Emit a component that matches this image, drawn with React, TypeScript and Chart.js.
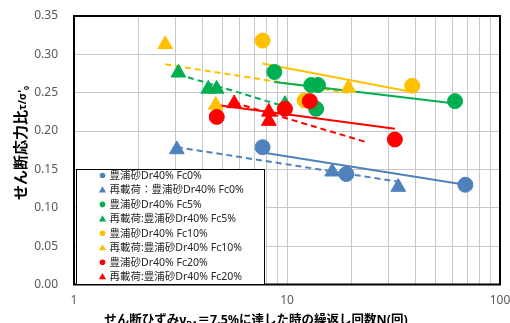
import { useEffect, useRef } from "react";
import { Chart, registerables } from "chart.js";

Chart.register(...registerables);

// 繰返し回数 N and せん断応力比 τ/σ'0 per test group
const fc0N = [7.68, 19.0, 68.8];
const fc0Ratio = [0.179, 0.144, 0.13];
const fc0ReN = [3.04, 16.3, 33.3];
const fc0ReRatio = [0.176, 0.147, 0.127];

const fc5N = [8.72, 12.99, 13.98, 13.7, 61.5];
const fc5Ratio = [0.277, 0.26, 0.26, 0.229, 0.239];
const fc5ReN = [3.09, 4.27, 4.67, 9.78];
const fc5ReRatio = [0.276, 0.255, 0.255, 0.235];

const fc10N = [7.68, 12.1, 38.7];
const fc10Ratio = [0.318, 0.24, 0.259];
const fc10ReN = [2.68, 4.63, 19.4];
const fc10ReRatio = [0.313, 0.234, 0.256];

const fc20N = [4.68, 9.78, 12.8, 32.1];
const fc20Ratio = [0.2185, 0.229, 0.239, 0.189];
const fc20ReN = [5.65, 8.22, 8.22];
const fc20ReRatio = [0.236, 0.225, 0.213];

// approximate trend lines (start / end)
const fc0TrendN = [7.68, 68.8];
const fc0TrendRatio = [0.172, 0.13];
const fc0ReTrendN = [3.04, 33.3];
const fc0ReTrendRatio = [0.179, 0.134];
const fc5TrendN = [8.72, 61.5];
const fc5TrendRatio = [0.264, 0.236];
const fc5ReTrendN = [3.09, 9.78];
const fc5ReTrendRatio = [0.274, 0.232];
const fc10TrendN = [7.68, 38.7];
const fc10TrendRatio = [0.288, 0.251];
const fc10ReTrendN = [2.68, 19.2];
const fc10ReTrendRatio = [0.287, 0.25];
const fc20TrendN = [4.68, 32.1];
const fc20TrendRatio = [0.234, 0.203];
const fc20ReTrendN = [5.65, 23.3];
const fc20ReTrendRatio = [0.237, 0.186];

const seriesLabels = [
  "豊浦砂Dr40% Fc0%",
  "再載荷：豊浦砂Dr40% Fc0%",
  "豊浦砂Dr40% Fc5%",
  "再載荷:豊浦砂Dr40% Fc5%",
  "豊浦砂Dr40% Fc10%",
  "再載荷:豊浦砂Dr40% Fc10%",
  "豊浦砂Dr40% Fc20%",
  "再載荷:豊浦砂Dr40% Fc20%",
];

const xTickValues = [1, 2, 3, 4, 5, 6, 7, 8, 9, 10, 20, 30, 40, 50, 60, 70, 80, 90, 100];
const xLabelValues = [1, 10, 100];
const yTickValues = [0, 0.05, 0.1, 0.15, 0.2, 0.25, 0.3, 0.35];

const BLUE = "#4f81bd";
const GREEN = "#00b050";
const YELLOW = "#ffc000";
const RED = "#ff0000";
const GRID = "#c8c8c8";

const pts = (xs: number[], ys: number[]) => xs.map((x, i) => ({ x, y: ys[i] }));

const groups = [
  { n: fc0N, r: fc0Ratio, tn: fc0TrendN, tr: fc0TrendRatio, color: BLUE, shape: "circle", dash: [] as number[] },
  { n: fc0ReN, r: fc0ReRatio, tn: fc0ReTrendN, tr: fc0ReTrendRatio, color: BLUE, shape: "triangle", dash: [6, 4] },
  { n: fc5N, r: fc5Ratio, tn: fc5TrendN, tr: fc5TrendRatio, color: GREEN, shape: "circle", dash: [] as number[] },
  { n: fc5ReN, r: fc5ReRatio, tn: fc5ReTrendN, tr: fc5ReTrendRatio, color: GREEN, shape: "triangle", dash: [6, 4] },
  { n: fc10N, r: fc10Ratio, tn: fc10TrendN, tr: fc10TrendRatio, color: YELLOW, shape: "circle", dash: [] as number[] },
  { n: fc10ReN, r: fc10ReRatio, tn: fc10ReTrendN, tr: fc10ReTrendRatio, color: YELLOW, shape: "triangle", dash: [6, 4] },
  { n: fc20N, r: fc20Ratio, tn: fc20TrendN, tr: fc20TrendRatio, color: RED, shape: "circle", dash: [] as number[] },
  { n: fc20ReN, r: fc20ReRatio, tn: fc20ReTrendN, tr: fc20ReTrendRatio, color: RED, shape: "triangle", dash: [6, 4] },
];

const TICK_FONT = "'Noto Sans', 'Noto Sans CJK JP', sans-serif";
const LABEL_FONT = "'Noto Sans', 'Noto Sans CJK JP', sans-serif";

function drawRuns(
  ctx: CanvasRenderingContext2D,
  runs: { text: string; font: string; dy: number }[],
  cx: number,
  baseline: number
) {
  let total = 0;
  const widths = runs.map((r) => {
    ctx.font = r.font;
    const w = ctx.measureText(r.text).width;
    total += w;
    return w;
  });
  let x = cx - total / 2;
  runs.forEach((r, i) => {
    ctx.font = r.font;
    ctx.fillText(r.text, x, baseline + r.dy);
    x += widths[i];
  });
}

const decorPlugin = {
  id: "decor",
  afterDraw(chart: any) {
    const { ctx, chartArea: a } = chart;
    ctx.save();

    // plot frame
    ctx.strokeStyle = "#000";
    ctx.lineWidth = 2;
    ctx.strokeRect(a.left, a.top, a.right - a.left, a.bottom - a.top);

    // legend box
    const lx = 76.5;
    const ly = 169.5;
    const lw = 188;
    const lh = a.bottom - ly;
    ctx.fillStyle = "#fff";
    ctx.fillRect(lx, ly, lw, lh);
    ctx.strokeStyle = "#000";
    ctx.lineWidth = 1;
    ctx.strokeRect(lx, ly, lw, lh);

    ctx.textBaseline = "middle";
    ctx.textAlign = "left";
    groups.forEach((g, i) => {
      const y = 175.5 + i * 14.45;
      const mx = 102.5;
      ctx.fillStyle = g.color;
      ctx.beginPath();
      if (g.shape === "circle") {
        ctx.arc(mx, y, 2.8, 0, Math.PI * 2);
      } else {
        ctx.moveTo(mx, y - 3.6);
        ctx.lineTo(mx + 3.6, y + 2.6);
        ctx.lineTo(mx - 3.6, y + 2.6);
        ctx.closePath();
      }
      ctx.fill();
      ctx.fillStyle = "#262626";
      ctx.font = `10.5px ${LABEL_FONT}`;
      ctx.fillText(seriesLabels[i], 109.5, y + 0.5);
    });

    // axis titles
    ctx.fillStyle = "#000";
    ctx.textBaseline = "alphabetic";
    ctx.textAlign = "left";
    const bold = (s: number) => `bold ${s}px 'Noto Sans', 'Noto Sans CJK JP', sans-serif`;

    drawRuns(
      ctx,
      [
        { text: "せん断ひずみγ", font: bold(12.5), dy: 0 },
        { text: "DA", font: bold(8), dy: 2.5 },
        { text: "＝7.5%に達した時の繰返し回数N(回)", font: bold(12.5), dy: 0 },
      ],
      256,
      324
    );

    ctx.save();
    ctx.translate(20, 143);
    ctx.rotate(-Math.PI / 2);
    drawRuns(
      ctx,
      [
        { text: "せん断応力比", font: bold(15), dy: 0 },
        { text: "τ/σ'", font: bold(10.5), dy: 0 },
        { text: "0", font: bold(7), dy: 2.5 },
      ],
      0,
      6
    );
    ctx.restore();

    ctx.restore();
  },
};

export default function App() {
  const ref = useRef<HTMLCanvasElement>(null);

  useEffect(() => {
    document.body.style.margin = "0";
    const datasets: any[] = [];
    groups.forEach((g, i) => {
      datasets.push({
        label: seriesLabels[i],
        data: pts(g.n, g.r),
        showLine: false,
        pointStyle: g.shape,
        pointRadius: g.shape === "circle" ? 7.5 : 8.5,
        pointBackgroundColor: g.color,
        pointBorderColor: g.color,
        pointBorderWidth: 1,
        order: 50 - i,
      });
    });
    groups.forEach((g, i) => {
      datasets.push({
        label: seriesLabels[i] + " trend",
        data: pts(g.tn, g.tr),
        showLine: true,
        borderColor: g.color,
        borderWidth: 2,
        borderDash: g.dash,
        pointRadius: 0,
        order: 100,
      });
    });

    const chart = new Chart(ref.current as HTMLCanvasElement, {
      type: "scatter",
      data: { datasets },
      plugins: [decorPlugin],
      options: {
        responsive: false,
        devicePixelRatio: 1,
        animation: false,
        events: [],
        layout: { padding: { top: 16, right: 10, left: 0, bottom: 0 } },
        plugins: {
          legend: { display: false },
          tooltip: { enabled: false },
          title: { display: false },
        },
        scales: {
          x: {
            type: "logarithmic",
            min: 1,
            max: 100,
            afterBuildTicks: (s: any) => {
              s.ticks = xTickValues.map((v) => ({ value: v }));
            },
            afterFit: (s: any) => {
              s.height = 38.5;
              s.paddingLeft = 0;
              s.paddingRight = 0;
            },
            border: { display: false },
            grid: { color: GRID, lineWidth: 1, drawTicks: false },
            ticks: {
              autoSkip: false,
              maxRotation: 0,
              padding: 9,
              color: "#595959",
              font: { family: TICK_FONT, size: 12 },
              callback: (v: any) => (xLabelValues.includes(Number(v)) ? String(v) : ""),
            },
          },
          y: {
            type: "linear",
            min: 0,
            max: 0.35,
            afterBuildTicks: (s: any) => {
              s.ticks = yTickValues.map((v) => ({ value: v }));
            },
            afterFit: (s: any) => {
              s.width = 74;
              s.paddingTop = 0;
              s.paddingBottom = 0;
            },
            border: { display: false },
            grid: { color: GRID, lineWidth: 1, drawTicks: false },
            ticks: {
              padding: 16,
              color: "#595959",
              font: { family: TICK_FONT, size: 12 },
              callback: (v: any) => Number(v).toFixed(2),
            },
          },
        },
      } as any,
    });
    return () => chart.destroy();
  }, []);

  return (
    <div style={{ width: 510, height: 323, overflow: "hidden" }}>
      <canvas ref={ref} width={510} height={323} style={{ display: "block" }} />
    </div>
  );
}
